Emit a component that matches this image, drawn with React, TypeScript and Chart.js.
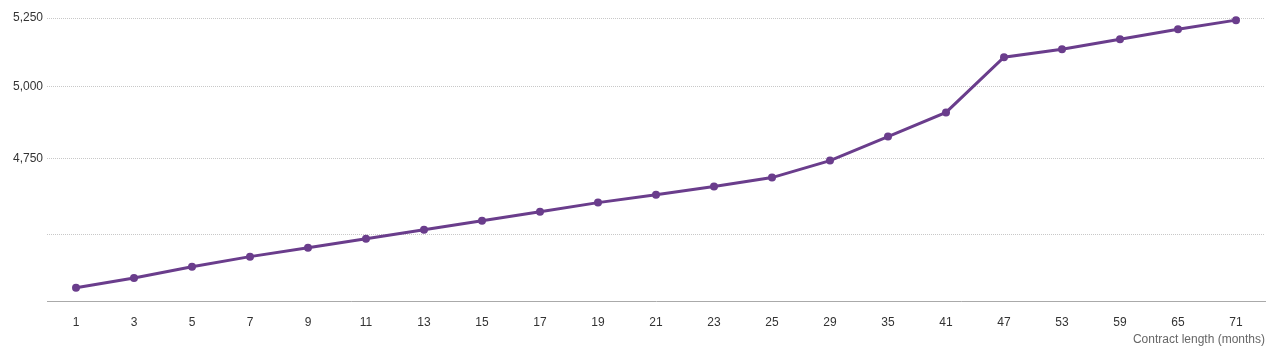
import React, { useEffect, useRef } from "react";
import { Chart, registerables } from "chart.js";

Chart.register(...registerables);

const months: string[] = ["1","3","5","7","9","11","13","15","17","19","21","23","25","29","35","41","47","53","59","65","71"];
const values: number[] = [4331,4361,4396,4428,4456,4485,4514,4543,4572,4602,4628,4655,4685,4742,4824,4908,5105,5134,5171,5208,5242];
const yTicks: number[] = [4500, 4750, 5000, 5250];
const yTickLabels: string[] = ["", "4,750", "5,000", "5,250"];
const yMin = 4290;
const yMax = 5250;
const xTitle = "Contract length (months)";
const lineColor = "#6a3d8c";

export default function App() {
  const ref = useRef<HTMLCanvasElement | null>(null);
  useEffect(() => {
    document.body.style.margin = "0";
    const ctx = ref.current!;
    const chart = new Chart(ctx, {
      type: "line",
      data: {
        labels: months,
        datasets: [
          {
            data: values,
            borderColor: lineColor,
            backgroundColor: lineColor,
            borderWidth: 3,
            pointRadius: 4,
            pointHoverRadius: 4,
            pointBorderWidth: 0,
            pointBackgroundColor: lineColor,
            tension: 0,
            clip: false as any,
          },
        ],
      },
      options: {
        animation: false,
        responsive: false,
        maintainAspectRatio: false,
        layout: { padding: { top: 18, left: 0, right: 15, bottom: 0 } },
        plugins: { legend: { display: false }, tooltip: { enabled: false } },
        scales: {
          x: {
            type: "category",
            offset: true,
            grid: { display: false, drawTicks: false },
            border: { display: true, color: "#aaaaaa", width: 1 },
            ticks: {
              color: "#333333",
              font: { family: "Liberation Sans, Arial, sans-serif", size: 12 },
              padding: 14,
              maxRotation: 0,
              autoSkip: false,
            },
            title: {
              display: true,
              text: xTitle,
              align: "end",
              color: "#666666",
              font: { family: "Liberation Sans, Arial, sans-serif", size: 12 },
              padding: { top: 0, bottom: 5 },
            },
            afterFit: (s: any) => {
              s.height = 51;
            },
          },
          y: {
            type: "logarithmic",
            min: yMin,
            max: yMax,
            afterBuildTicks: (s: any) => {
              s.ticks = yTicks.map((v) => ({ value: v }));
            },
            grid: {
              color: "#c8c8c8",
              lineWidth: 1,
              drawTicks: false,
            },
            border: { display: false, dash: [1, 1] },
            ticks: {
              color: "#333333",
              font: { family: "Liberation Sans, Arial, sans-serif", size: 12 },
              padding: 4,
              callback: (_v: any, i: number) => yTickLabels[i],
            },
            afterFit: (s: any) => {
              s.width = 47;
            },
          },
        },
      },
    });
    return () => chart.destroy();
  }, []);
  return (
    <div style={{ width: 1280, height: 352 }}>
      <canvas ref={ref} width={1280} height={352} style={{ display: "block" }} />
    </div>
  );
}
